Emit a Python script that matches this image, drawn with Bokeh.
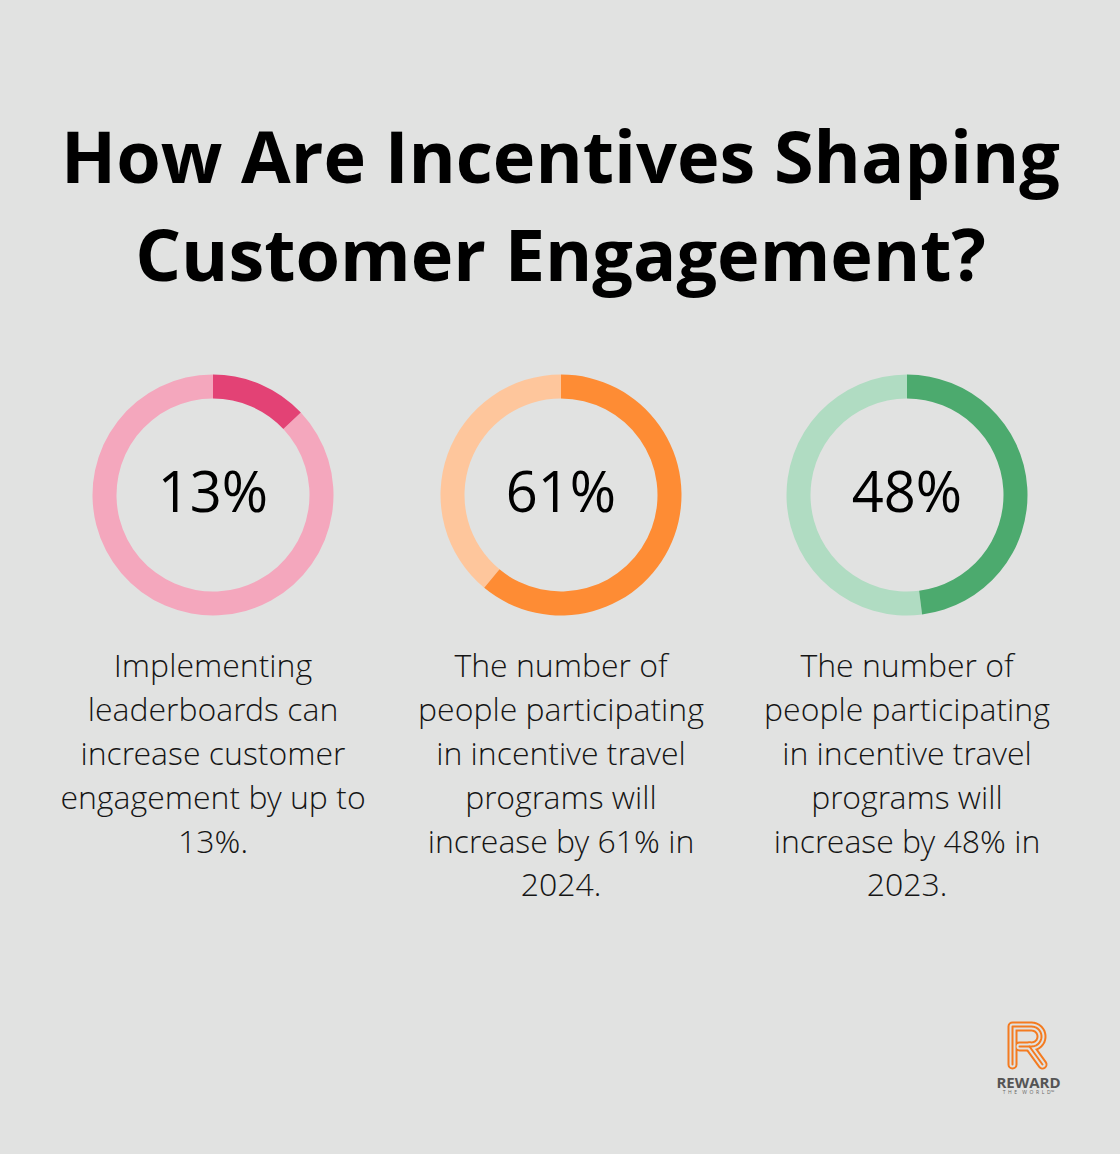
import numpy as np
from bokeh.plotting import figure
from bokeh.models import Range1d
from bokeh.core.properties import value
from bokeh.embed import file_html
from bokeh.resources import INLINE

# ---------------- data ----------------
title_lines = ["How Are Incentives Shaping", "Customer Engagement?"]
percent_values = [13, 61, 48]
percent_labels = ["13%", "61%", "48%"]
descriptions = [
    ["Implementing", "leaderboards can", "increase customer", "engagement by up to", "13%."],
    ["The number of", "people participating", "in incentive travel", "programs will", "increase by 61% in", "2024."],
    ["The number of", "people participating", "in incentive travel", "programs will", "increase by 48% in", "2023."],
]
dark_colors = ["#e34275", "#fe8c34", "#4caa6e"]
light_colors = ["#f4a7bd", "#fec69c", "#b0dcc2"]

# ---------------- layout ----------------
W, H = 1120, 1154
BG = "#e1e2e1"

def Y(y):
    return H - y

def TB(baseline, size):
    # compensate the svg text baseline shift
    return Y(baseline - 0.42 * size)

p = figure(width=W, height=H, output_backend="svg", toolbar_location=None,
           x_range=Range1d(0, W), y_range=Range1d(0, H),
           min_border=0, background_fill_color=BG, border_fill_color=BG,
           outline_line_color=None)
p.axis.visible = False
p.grid.visible = False

# title
TS = 72
title_baselines = [185, 283]
p.text(x=[W / 2] * 2, y=[TB(b, TS) for b in title_baselines], text=title_lines,
       text_font=value("Open Sans"), text_font_style="bold",
       text_font_size="%dpx" % TS, text_color="#000000",
       text_align="center", text_baseline="alphabetic")

# donuts
cx = [212.5, 560.5, 906.5]
cy = 494.5
r_out, r_in = 120.5, 96.5
start = np.pi / 2
for i, v in enumerate(percent_values):
    frac = v / 100.0
    split = start - 2 * np.pi * frac
    p.annular_wedge(x=[cx[i]], y=[Y(cy)], inner_radius=r_in, outer_radius=r_out,
                    start_angle=[split], end_angle=[start - 2 * np.pi], direction="clock",
                    fill_color=light_colors[i], line_color=None)
    p.annular_wedge(x=[cx[i]], y=[Y(cy)], inner_radius=r_in, outer_radius=r_out,
                    start_angle=[start], end_angle=[split], direction="clock",
                    fill_color=dark_colors[i], line_color=None)

PS = 56
p.text(x=cx, y=[TB(513, PS)] * 3, text=percent_labels,
       text_font=value("Open Sans"), text_font_size="%dpx" % PS, text_color="#000000",
       text_align="center", text_baseline="alphabetic")

# descriptions
DS = 32
first_baseline = 677
line_gap = 44.2
xs, ys, ts = [], [], []
for i, lines in enumerate(descriptions):
    for j, t in enumerate(lines):
        xs.append(cx[i])
        ys.append(TB(first_baseline + j * line_gap, DS))
        ts.append(t)
p.text(x=xs, y=ys, text=ts, text_font=value("Open Sans Light"),
       text_font_size="%dpx" % DS, text_color="#151515",
       text_align="center", text_baseline="alphabetic")

# logo: stylised R
def r_path():
    pts = [(1012, 1064), (1012, 1026), (1031, 1026)]
    ang = np.linspace(np.pi / 2, -np.pi / 2, 20)
    for a in ang:
        pts.append((1031 + 10 * np.cos(a), 1036 - 10 * np.sin(a)))
    pts += [(1019, 1046)]
    return [q[0] for q in pts], [Y(q[1]) for q in pts]

rx, ry = r_path()
leg_x, leg_y = [1029, 1042], [Y(1046), Y(1064)]
for w, c in [(10, "#f47b20"), (6, BG), (2, "#f47b20")]:
    p.line(rx, ry, line_width=w, line_color=c, line_cap="round", line_join="round")
    p.line(leg_x, leg_y, line_width=w, line_color=c, line_cap="round")

p.text(x=[1028], y=[TB(1088, 15)], text=["REWARD"], text_font=value("Open Sans"),
       text_font_style="bold", text_font_size="15px", text_color="#555555",
       text_align="center", text_baseline="alphabetic")
nb = "\u00a0\u00a0"
world = nb.join("THE") + nb * 2 + nb.join("WORLD") + "\u2122"
p.text(x=[1028], y=[TB(1094, 5)], text=[world], text_font=value("Open Sans"),
       text_font_size="5px", text_color="#666666",
       text_align="center", text_baseline="alphabetic")

html = file_html(p, INLINE)
html = html.replace("</head>",
                    "<style>html, body {margin:0; padding:0; background:%s; overflow:hidden;}</style></head>" % BG, 1)
open("out.html", "w").write(html)
